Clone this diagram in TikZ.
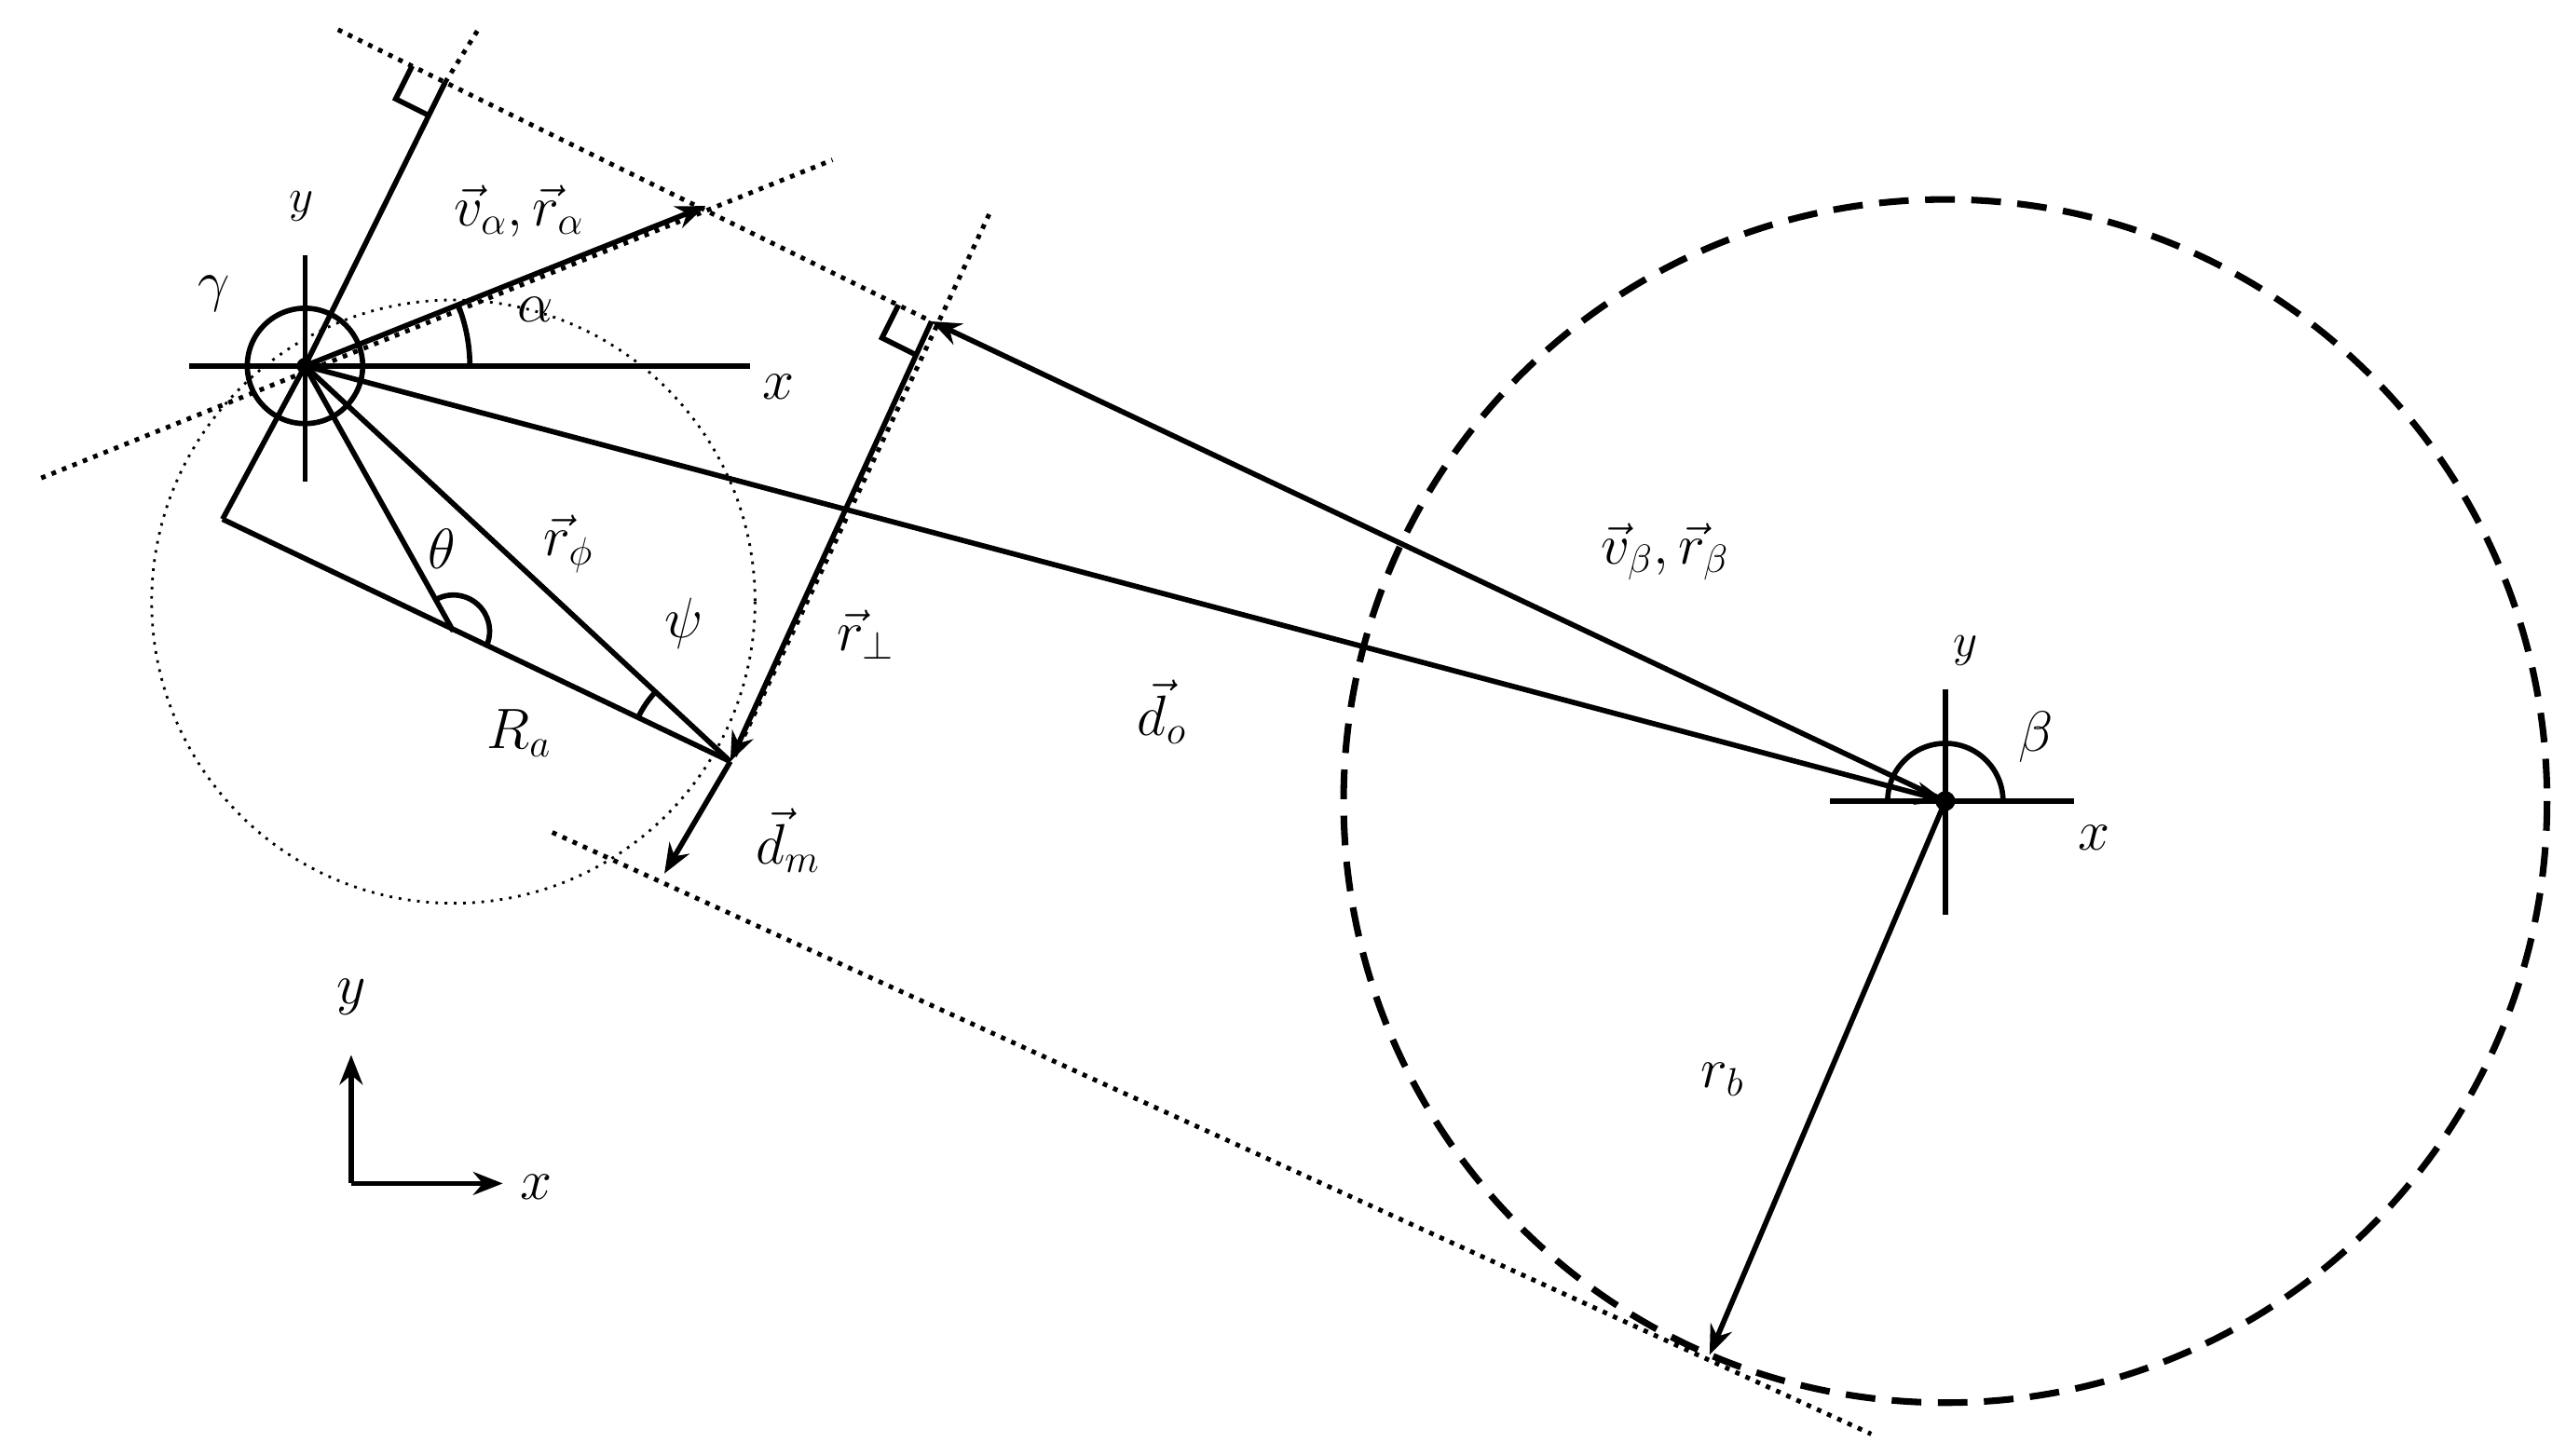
\documentclass[tikz,border=0pt]{standalone}
\usetikzlibrary{arrows.meta}
\begin{document}
\begin{tikzpicture}[x=0.5pt,y=-0.5pt,
  th/.style={line width=1.6pt},
  arr/.style={th,-{Stealth[length=9pt,width=7pt]}},
  dt/.style={dotted,line width=1.4pt},
  lab/.style={font=\LARGE}]
\useasboundingbox (0,0) rectangle (1548,883);
\coordinate (A) at (185,222);
\coordinate (B) at (1180,486);
% dotted circle and big dashed circle
\draw[dotted,line width=0.8pt] (275,365) circle (183);
\draw[dashed,line width=2pt,dash pattern=on 9pt off 5pt] (B) circle (365);
% dotted lines
\draw[dt] (25,290) -- (505,97);
\draw[dt] (205,18) -- (565,195);
\draw[dt] (270,50) -- (290,18);
\draw[dt] (600,130) -- (445,460);
\draw[dt] (335,505) -- (1135,870);
% axes at A
\draw[th] (115,222) -- (455,222);
\draw[th] (185,155) -- (185,292);
\draw[th] (A) circle (35);
\fill (A) circle (5);
\node[lab] at (472,235) {$x$};
\node[font=\Large] at (183,125) {$y$};
\node[lab] at (130,178) {$\gamma$};
% construction
\coordinate (C) at (135,315);
\coordinate (P) at (270,50);
\coordinate (Q) at (565,195);
\coordinate (M) at (443,462);
\coordinate (T) at (275,383);
\draw[th] (C) -- (A) -- (P);
\draw[th] (C) -- (M);
\draw[th] (A) -- (T);
\draw[th] (A) -- (M);
\draw[th] (250,40) -- ++(-10,20) -- ++(20,10);
\draw[th] (545,185) -- ++(-10,20) -- ++(20,10);
\draw[arr] (Q) -- (M);
\draw[arr] (A) -- (428,125);
\draw[th] (285,222) arc[start angle=0,end angle=-22,radius=100];
\draw[th] (T) ++(-119.2:22) arc[start angle=-119.2,end angle=25.2,radius=22];
\draw[th] (M) ++(205.5:62) arc[start angle=205.5,end angle=223,radius=62];
\draw[arr] (M) -- (403,530);
\draw[arr] (A) -- (B);
\draw[arr] (B) -- (Q);
\node[lab] at (315,128) {$\vec v_\alpha,\vec r_\alpha$};
\node[lab] at (325,188) {$\alpha$};
\node[lab] at (268,333) {$\theta$};
\node[lab] at (345,330) {$\vec r_\phi$};
\node[lab] at (415,378) {$\psi$};
\node[lab] at (315,445) {$R_a$};
\node[lab] at (525,385) {$\vec r_\perp$};
\node[lab] at (478,510) {$\vec d_m$};
\node[lab] at (705,432) {$\vec d_o$};
\node[lab] at (1010,335) {$\vec v_\beta,\vec r_\beta$};
% axes at B
\draw[th] (1110,486) -- (1258,486);
\draw[th] (1180,418) -- (1180,555);
\draw[th] (1215,486) arc[start angle=0,end angle=-180,radius=35];
\fill (B) circle (6);
\node[lab] at (1270,508) {$x$};
\node[font=\Large] at (1192,395) {$y$};
\node[lab] at (1235,447) {$\beta$};
\draw[arr] (B) -- (1037,822);
\node[lab] at (1045,655) {$r_b$};
% global axes
\draw[arr] (213,718) -- (213,640);
\draw[arr] (213,718) -- (305,718);
\node[lab] at (213,605) {$y$};
\node[lab] at (325,720) {$x$};
\end{tikzpicture}
\end{document}
